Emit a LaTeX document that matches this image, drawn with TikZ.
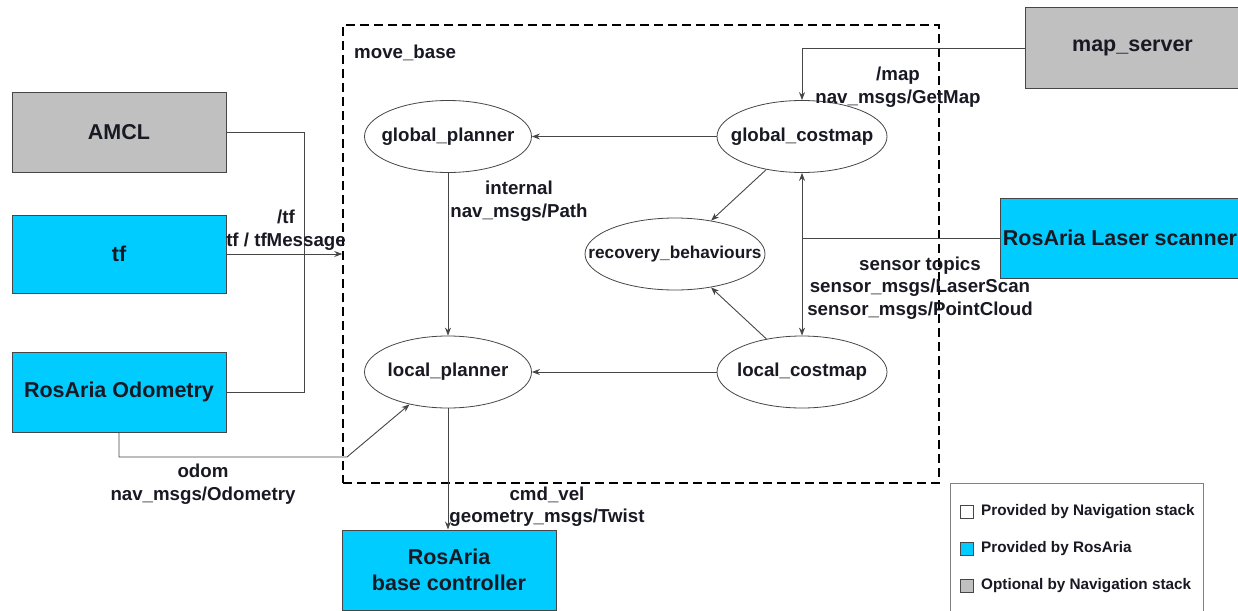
\documentclass[tikz,border=0pt]{standalone}
\usepackage{fontspec}
\setmainfont{Liberation Sans}
\usetikzlibrary{shapes.geometric,arrows.meta}

\definecolor{rosaria}{RGB}{0,204,255}
\definecolor{optgray}{RGB}{192,192,192}
\definecolor{linegray}{RGB}{70,70,70}
\definecolor{inkdark}{RGB}{25,25,35}
\newcommand{\nm}[1]{\makebox[0pt]{#1}}

\begin{document}
\begin{tikzpicture}[
	x=1pt, y=-1pt,
	>={Stealth[length=8pt,width=6pt]},
	every node/.style={
		font=\fontsize{18.7}{22.5}\selectfont\bfseries,
		text=inkdark,
		inner sep=0pt
	},
	ell/.style={ellipse, draw=linegray, line width=0.8pt, minimum width=167pt, minimum height=72pt},
	blk/.style={rectangle, draw=linegray, line width=1pt, minimum width=214pt, minimum height=80pt,
		align=center, font=\fontsize{21.5}{26}\selectfont\bfseries},
	lbl/.style={align=center},
	conn/.style={draw=linegray, line width=0.9pt},
	keybox/.style={rectangle, draw=linegray, line width=0.8pt, minimum size=13pt},
	keytext/.style={anchor=west, font=\fontsize{15.3}{18}\selectfont\bfseries}
	]
	\useasboundingbox (0,0) rectangle (1238,610);
	\fill[white] (0,0) rectangle (1238,610);
	
	% move_base frame
	\node[draw=black, line width=1.5pt, dash pattern=on 9pt off 5pt,
		minimum width=596pt, minimum height=458pt] (movebase) at (641,254) {};
	\node[anchor=west] (mbtitle) at (354,53) {move\_base};
	
	% Nodes inside move_base
	\node[ell] (gplan) at (448,136.5) {\nm{global\_planner}};
	\node[ell, minimum width=170pt] (gcost) at (802,136.5) {\nm{global\_costmap}};
	\node[ell, minimum width=180pt] (recov) at (675,254) {\nm{\fontsize{17.2}{20}\selectfont recovery\_behaviours}};
	\node[ell] (lplan) at (448,372) {\nm{local\_planner}};
	\node[ell, minimum width=170pt] (lcost) at (802,372) {\nm{local\_costmap}};
	
	% Outside blocks
	\node[blk, fill=optgray] (amcl) at (119,132.5) {AMCL};
	\node[blk, fill=rosaria, minimum height=78pt] (tf) at (119,254) {tf};
	\node[blk, fill=rosaria] (odom) at (119,392) {RosAria Odometry};
	\node[blk, fill=optgray, minimum width=215pt] (mapsrv) at (1132.5,48) {map\_server};
	\node[blk, fill=rosaria, minimum width=240pt] (laser) at (1120,238) {RosAria Laser scanner};
	\node[blk, fill=rosaria] (base) at (449,570) {RosAria\\base controller};
	
	% Connectors inside move_base
	\draw[conn, ->] (gcost) -- (gplan);
	\draw[conn, ->] (lcost) -- (lplan);
	\draw[conn, ->] (gplan) -- (lplan);
	\draw[conn, <->] (gcost) -- (lcost);
	\draw[conn, ->] (gcost) -- (recov);
	\draw[conn, ->] (lcost) -- (recov);
	
	% Connectors from outside
	\coordinate (tfbus) at (304,132.5);
	\draw[conn] (amcl.east) -- (tfbus) |- (odom.east);
	\draw[conn, ->] (tf.east) -- (tf.east -| movebase.west);
	\draw[conn, ->] (mapsrv.west) -| (gcost.north);
	\draw[conn] (laser.west) -- (laser.west -| gcost.south);
	\coordinate (odomturn) at (347,457);
	\draw[conn, ->] (odom.south) |- (odomturn) -- (lplan);
	\draw[conn, ->] (lplan.south) -- (lplan.south |- base.north);
	
	% Topic labels
	\node[lbl] (tflbl) at (286,230) {/tf\\tf / tfMessage};
	\node[lbl] (maplbl) at (898,87) {/map\\nav\_msgs/GetMap};
	\node[lbl] (pathlbl) at (519,201) {internal\\nav\_msgs/Path};
	\node[lbl] (sensorlbl) at (920,288) {sensor topics\\sensor\_msgs/LaserScan\\sensor\_msgs/PointCloud};
	\node[lbl] (cmdlbl) at (547,506.5) {cmd\_vel\\geometry\_msgs/Twist};
	\node[lbl] (odomlbl) at (203,484) {odom\\nav\_msgs/Odometry};
	
	% Legend
	\node[draw=gray, line width=1pt, anchor=north west, minimum width=253pt, minimum height=140pt] (legend) at (950,483) {};
	\node[keybox, fill=white] (keynav) at (967,511.5) {};
	\node[keytext] (keynavtxt) at (981,511.5) {Provided by Navigation stack};
	\node[keybox, fill=rosaria] (keyros) at (967,549) {};
	\node[keytext] (keyrostxt) at (981,549) {Provided by RosAria};
	\node[keybox, fill=optgray] (keyopt) at (967,586) {};
	\node[keytext] (keyopttxt) at (981,586) {Optional by Navigation stack};
\end{tikzpicture}
\end{document}
